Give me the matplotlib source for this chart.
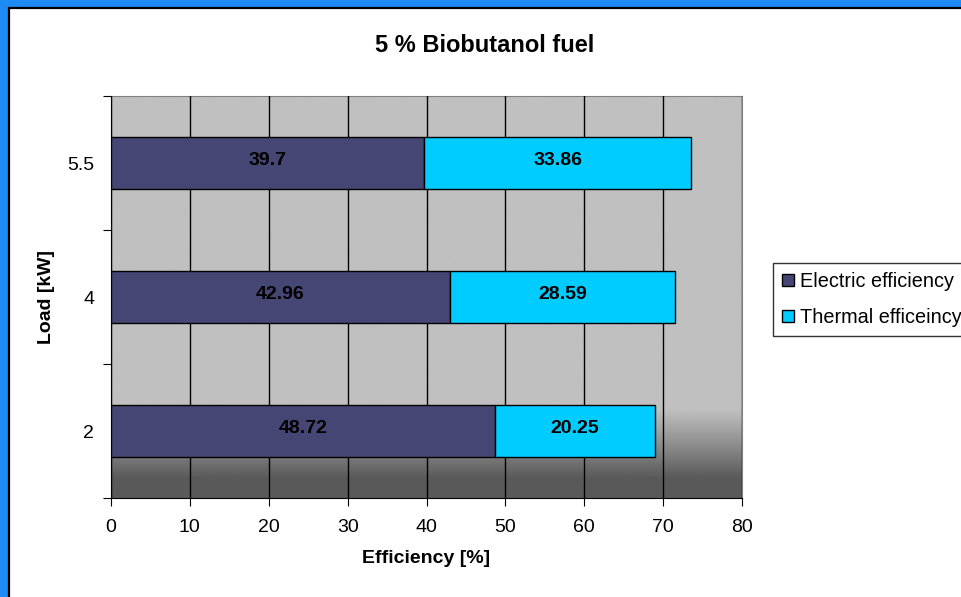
import numpy as np
import matplotlib
matplotlib.use('Agg')
from matplotlib import pyplot as plt
from matplotlib.patches import Rectangle, Patch

plt.rcParams['font.family'] = ['Liberation Sans', 'DejaVu Sans']

loads = ['2', '4', '5.5']
electric = [48.72, 42.96, 39.7]
thermal = [20.25, 28.59, 33.86]
series_names = ['Electric efficiency', 'Thermal efficeincy']
colors = ['#464674', '#00CCFF']  # 电效率 / 热效率

fig = plt.figure(figsize=(9.61, 5.97), dpi=100)
fig.patch.set_facecolor('#1E8BF5')
# 白色画布 + 黑色内框
fig.patches.append(Rectangle((9 / 961, -0.1), 1.2, 1 - 8 / 597 + 0.1,
                             transform=fig.transFigure, facecolor='white',
                             edgecolor='black', lw=1.6, zorder=-5))

ax = fig.add_axes([111 / 961, 1 - 498 / 597, 631 / 961, 402 / 597])

# 灰色渐变背景
t = np.linspace(0, 1, 400)
shade = np.interp(t, [0, 0.78, 0.87, 0.95, 1], [0.753, 0.753, 0.55, 0.355, 0.355])
ax.imshow(shade[:, None], cmap='gray', vmin=0, vmax=1, aspect='auto',
          extent=[0, 80, -0.5, 2.5], zorder=0, interpolation='bilinear')

y = np.arange(len(loads))
h = 0.39
b1 = ax.barh(y, electric, height=h, color=colors[0], edgecolor='black', lw=1, zorder=3)
b2 = ax.barh(y, thermal, left=electric, height=h, color=colors[1], edgecolor='black', lw=1, zorder=3)
for bars in (b1, b2):
    for r in bars:
        w = r.get_width()
        ax.text(r.get_x() + w / 2, r.get_y() + h / 2 + 0.02, f'{w:g}', ha='center', va='center',
                fontsize=14, fontweight='bold', zorder=4)

ax.set_xlim(0, 80)
ax.set_ylim(-0.5, 2.5)
ax.set_xticks(range(0, 81, 10))
ax.xaxis.grid(True, color='black', lw=1, zorder=1)
ax.set_axisbelow(False)
for l in ax.get_xgridlines():
    l.set_zorder(1)

ax.set_yticks(np.arange(-0.5, 2.6, 1))
ax.set_yticklabels([])
ax.set_yticks(y, minor=True)
ax.set_yticklabels(loads, minor=True)
ax.tick_params(axis='y', which='minor', length=0, pad=12, labelsize=14)
ax.tick_params(axis='y', which='major', length=6, direction='out')
ax.tick_params(axis='x', length=6, direction='out', labelsize=14, pad=9)

ax.spines['left'].set_color('black')
ax.spines['bottom'].set_color('black')
ax.spines['top'].set_color('#808080')
ax.spines['right'].set_color('#808080')

ax.set_xlabel('Efficiency [%]', fontsize=14, fontweight='bold', labelpad=10)
ax.set_ylabel('Load [kW]', fontsize=14, fontweight='bold', labelpad=9)
fig.text(375 / 961, 1 - 45 / 597, '5 % Biobutanol fuel', ha='left', va='center',
         fontsize=17, fontweight='bold')

handles = [Patch(facecolor=c, edgecolor='black', lw=1) for c in colors]
leg = fig.legend(handles, series_names, loc='upper left', bbox_to_anchor=(773 / 961, 1 - 263 / 597),
                 fontsize=14.3, frameon=True, fancybox=False, edgecolor='black',
                 handlelength=0.6, handleheight=0.6, handletextpad=0.3, borderpad=0.45,
                 labelspacing=0.85, borderaxespad=0)
leg.get_frame().set_linewidth(1)

plt.savefig('out.png', dpi=100, facecolor=fig.get_facecolor())
